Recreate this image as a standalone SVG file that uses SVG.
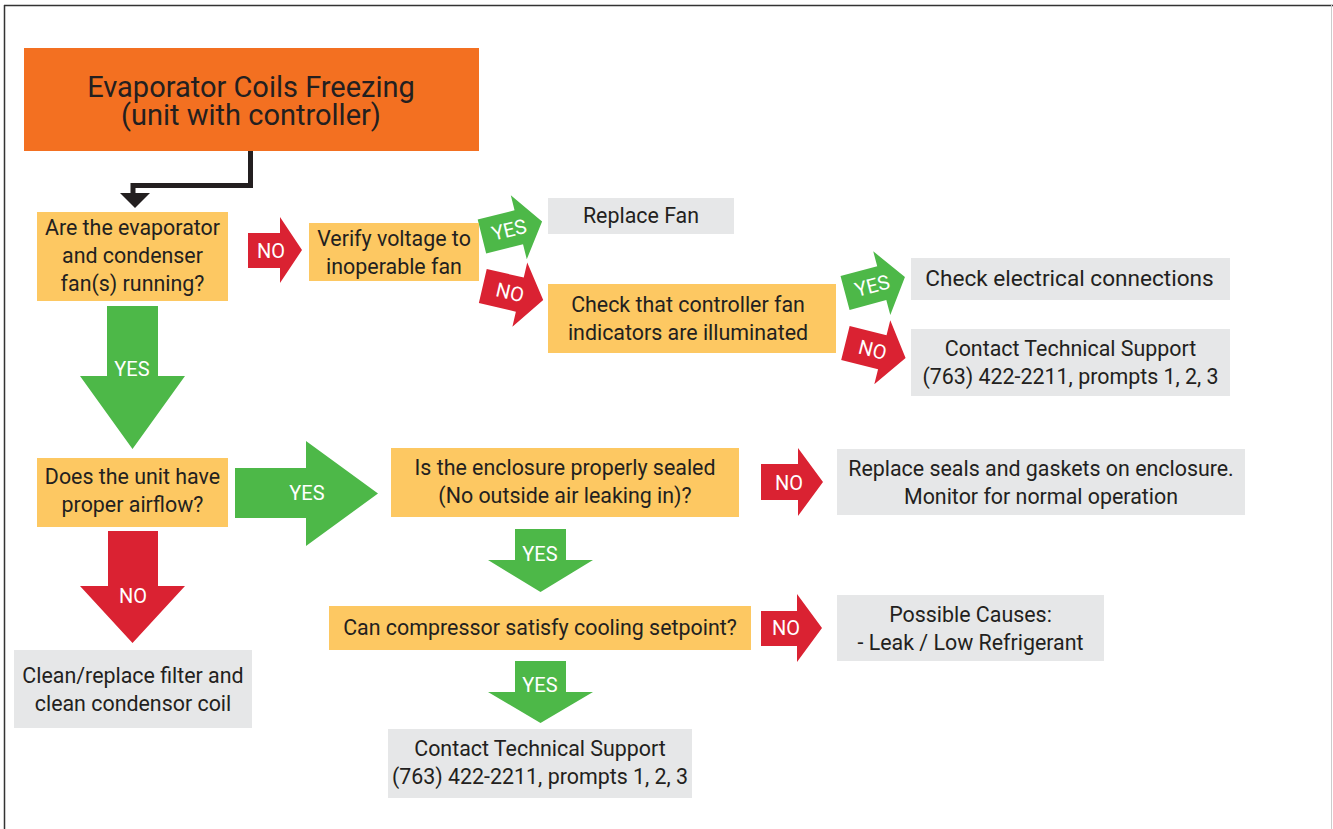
<svg xmlns="http://www.w3.org/2000/svg" width="1333" height="829" viewBox="0 0 1333 829">
<defs>
<style>
.t{font-family:Roboto,"Liberation Sans",sans-serif;fill:#231f20;text-anchor:middle;font-size:21.4px}
.tb{font-size:22.6px}
.ti{font-family:Roboto,"Liberation Sans",sans-serif;fill:#231f20;text-anchor:middle;font-size:29px}
.w{font-family:Roboto,"Liberation Sans",sans-serif;fill:#ffffff;text-anchor:middle;font-size:20px}
.yel{fill:#fdc862}
.gry{fill:#e6e7e8}
.org{fill:#f37021}
.grn{fill:#4db848}
.red{fill:#da2232}
</style>
<path id="rarr" d="M-31,-17.5 H7 V-33 L31,0 L7,33 V17.5 H-31 Z"/>
</defs>
<rect width="1333" height="829" fill="#ffffff"/>
<g id="frame">
<line x1="4" y1="5.5" x2="1333" y2="5.5" stroke="#333333" stroke-width="1.5"/>
<line x1="4.5" y1="5" x2="4.5" y2="829" stroke="#333333" stroke-width="1.5"/>
<line x1="1331.5" y1="5" x2="1331.5" y2="829" stroke="#cccccc" stroke-width="1"/>
</g>
<g id="connectors">
<polyline points="250.5,151 250.5,185.5 133,185.5 133,196" fill="none" stroke="#231f20" stroke-width="5"/>
<path d="M120,193 H150 L135,208 Z" fill="#231f20"/>
<g id="c-no1"><path class="red" d="M248,233 H280 V217 L302,250 L280,283 V268 H248 Z"/><text class="w" x="271" y="258">NO</text></g>
<g id="c-yes1" transform="translate(512,229) rotate(-14)"><use href="#rarr" class="grn"/><text class="w" x="-3" y="7">YES</text></g>
<g id="c-no2" transform="translate(513,293) rotate(13)"><use href="#rarr" class="red"/><text class="w" x="-3" y="7">NO</text></g>
<g id="c-yes2" transform="translate(875,285) rotate(-15)"><use href="#rarr" class="grn"/><text class="w" x="-3" y="7">YES</text></g>
<g id="c-no3" transform="translate(875.5,350.5) rotate(14)"><use href="#rarr" class="red"/><text class="w" x="-3" y="7">NO</text></g>
<g id="c-yes3"><path class="grn" d="M107,306 H158 V376 H185 L132.5,449 L80,376 H107 Z"/><text class="w" x="132" y="376">YES</text></g>
<g id="c-yes4"><path class="grn" d="M235,468 H306 V441 L378,493.5 L306,546 V518 H235 Z"/><text class="w" x="307" y="500">YES</text></g>
<g id="c-no4"><path class="red" d="M108,531 H158 V586 H185 L132.5,643 L80,586 H108 Z"/><text class="w" x="133" y="603">NO</text></g>
<g id="c-no5"><path class="red" d="M761,464 H798 V448 L823,482 L798,516 V500 H761 Z"/><text class="w" x="789" y="490">NO</text></g>
<g id="c-yes5"><path class="grn" d="M515,529 H566 V560 H593 L540.5,592 L488,560 H515 Z"/><text class="w" x="540" y="561">YES</text></g>
<g id="c-no6"><path class="red" d="M761,611 H797 V594 L822,628 L797,662 V646 H761 Z"/><text class="w" x="786" y="635">NO</text></g>
<g id="c-yes6"><path class="grn" d="M515,661 H566 V692 H593 L540.5,723 L488,692 H515 Z"/><text class="w" x="540" y="692">YES</text></g>
</g>
<g id="title"><rect class="org" x="24" y="48" width="455" height="103"/><text class="ti" x="251" y="97">Evaporator Coils Freezing</text><text class="ti" x="251" y="125">(unit with controller)</text></g>
<g id="n-fans"><rect class="yel" x="37" y="212" width="191" height="89"/><text class="t" x="132.5" y="235">Are the evaporator</text><text class="t" x="132.5" y="263">and condenser</text><text class="t" x="132.5" y="291">fan(s) running?</text></g>
<g id="n-verify"><rect class="yel" x="309" y="223" width="170" height="58"/><text class="t" x="394" y="246">Verify voltage to</text><text class="t" x="394" y="274">inoperable fan</text></g>
<g id="n-replacefan"><rect class="gry" x="548" y="198" width="186" height="36"/><text class="t" x="641" y="223">Replace Fan</text></g>
<g id="n-indicators"><rect class="yel" x="548" y="284" width="288" height="69"/><text class="t" x="688" y="312">Check that controller fan</text><text class="t" x="688" y="340">indicators are illuminated</text></g>
<g id="n-electrical"><rect class="gry" x="911" y="258" width="319" height="42"/><text class="t tb" x="1069.5" y="286">Check electrical connections</text></g>
<g id="n-support1"><rect class="gry" x="911" y="329" width="319" height="67"/><text class="t" x="1070.5" y="356">Contact Technical Support</text><text class="t" x="1070.5" y="384">(763) 422-2211, prompts 1, 2, 3</text></g>
<g id="n-airflow"><rect class="yel" x="37" y="458" width="191" height="69"/><text class="t" x="132.5" y="484">Does the unit have</text><text class="t" x="132.5" y="512">proper airflow?</text></g>
<g id="n-filter"><rect class="gry" x="14" y="650" width="238" height="78"/><text class="t" x="133" y="683">Clean/replace filter and</text><text class="t" x="133" y="711">clean condensor coil</text></g>
<g id="n-sealed"><rect class="yel" x="391" y="448" width="348" height="69"/><text class="t" x="565" y="475">Is the enclosure properly sealed</text><text class="t" x="565" y="503">(No outside air leaking in)?</text></g>
<g id="n-seals"><rect class="gry" x="837" y="449" width="408" height="66"/><text class="t" x="1041" y="476">Replace seals and gaskets on enclosure.</text><text class="t" x="1041" y="504">Monitor for normal operation</text></g>
<g id="n-compressor"><rect class="yel" x="329" y="606" width="422" height="44"/><text class="t" x="540" y="635">Can compressor satisfy cooling setpoint?</text></g>
<g id="n-causes"><rect class="gry" x="837" y="595" width="267" height="66"/><text class="t" x="970.5" y="622">Possible Causes:</text><text class="t" x="970.5" y="650">- Leak / Low Refrigerant</text></g>
<g id="n-support2"><rect class="gry" x="388" y="729" width="304" height="69"/><text class="t" x="540" y="756">Contact Technical Support</text><text class="t" x="540" y="784">(763) 422-2211, prompts 1, 2, 3</text></g>
</svg>
